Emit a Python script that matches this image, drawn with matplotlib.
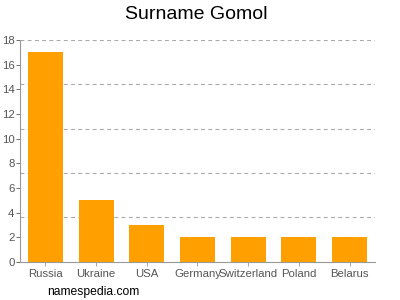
import matplotlib
matplotlib.use("Agg")
import matplotlib.pyplot as plt

countries = ["Russia", "Ukraine", "USA", "Germany", "Switzerland", "Poland", "Belarus"]
counts = [17, 5, 3, 2, 2, 2, 2]
yticks = [0, 2, 4, 6, 8, 10, 12, 14, 16, 18]
gridlines = [3.6, 7.2, 10.8, 14.4, 18]

plt.rcParams["font.family"] = ["Liberation Sans", "DejaVu Sans"]

fig = plt.figure(figsize=(4, 3), dpi=100)
ax = fig.add_axes([0.05, 0.127, 0.8875, 0.74])

ax.bar(range(len(countries)), counts, width=0.69, color="#ffa000", zorder=2)
for g in gridlines:
    ax.axhline(g, color="#aaaaaa", lw=0.8, ls=(0, (3.5, 3)), zorder=1)

ax.set_xlim(-0.5, len(countries) - 0.5)
ax.set_ylim(0, 18)
ax.set_yticks(yticks)
ax.set_xticks(range(len(countries)))
ax.set_xticklabels(countries)
ax.tick_params(axis="both", labelsize=8.2, colors="#555555", length=3, width=0.6, pad=2)
ax.tick_params(axis="y", pad=1)
ax.tick_params(axis="x", colors="#999999", labelcolor="#555555")

for s in ["top", "right"]:
    ax.spines[s].set_visible(False)
for s in ["left", "bottom"]:
    ax.spines[s].set_color("#999999")
    ax.spines[s].set_linewidth(0.8)

fig.text(0.49, 0.953, "Surname Gomol", ha="center", va="center", fontsize=14, color="#000000")
fig.text(0.117, 0.027, "namespedia.com", ha="left", va="center", fontsize=8.7, color="#000000")

fig.savefig("out.png", dpi=100)
